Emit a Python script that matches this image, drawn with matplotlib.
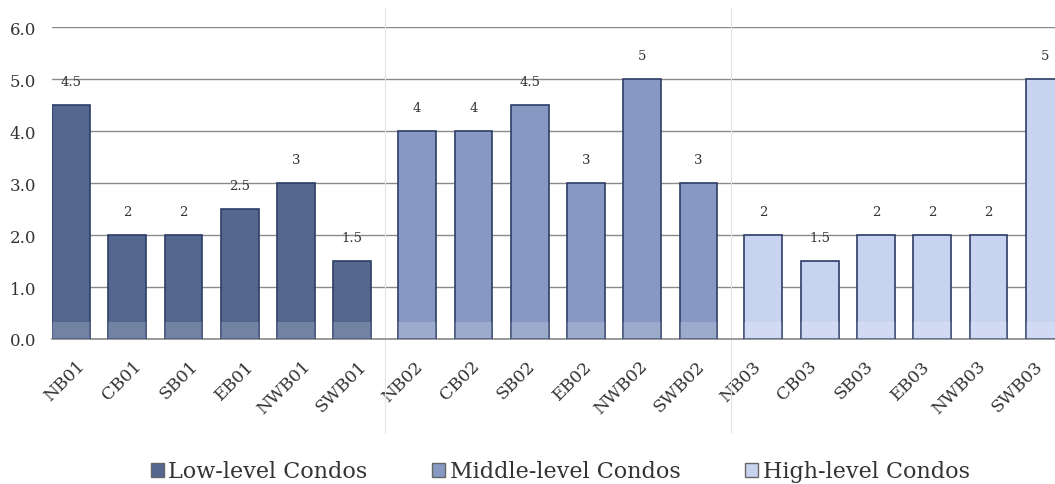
import numpy as np
import matplotlib.pyplot as plt
from matplotlib.patches import Patch

groups = ['Low-level Condos', 'Middle-level Condos', 'High-level Condos']
sites = ['NB', 'CB', 'SB', 'EB', 'NWB', 'SWB']
low_vals = [4.5, 2, 2, 2.5, 3, 1.5]
mid_vals = [4, 4, 4.5, 3, 5, 3]
high_vals = [2, 1.5, 2, 2, 2, 5]
y_ticks = [0.0, 1.0, 2.0, 3.0, 4.0, 5.0, 6.0]

face_colors = ['#54678f', '#8799c2', '#c8d3f0']
edge_color = '#2c3d68'
group_gap = 0.15

plt.rcParams['font.family'] = ['DejaVu Serif']

fig = plt.figure(figsize=(10.55, 4.85), dpi=100)
ax = fig.add_axes([0.049, 0.299, 0.951, 0.643])

all_vals = [low_vals, mid_vals, high_vals]
bar_pos, tick_lab = [], []
for g, vals in enumerate(all_vals):
    x = np.arange(len(vals)) + g * (len(sites) + group_gap)
    ax.bar(x, vals, width=0.67, color=face_colors[g], edgecolor=edge_color,
           linewidth=1.2, zorder=3, label=groups[g])
    # lighter band at the base of the bars (scan look)
    ax.bar(x, [0.33] * len(vals), width=0.67, color='white', alpha=0.18,
           linewidth=0, zorder=4)
    for xi, v in zip(x, vals):
        ax.text(xi, v + 0.33, f'{v:g}', ha='center', va='bottom',
                fontsize=9.5, color='#333333', zorder=5, clip_on=False)
    bar_pos.extend(x)
    tick_lab.extend([f'{s}0{g + 1}' for s in sites])
    if g > 0:
        sep = x[0] - (1 + group_gap) / 2
        ax.axvline(sep, ymin=-0.3, ymax=1.06, clip_on=False,
                   color='#e4e4e4', lw=0.8, zorder=1)

# the category labels sit on an even spacing (no group gaps), like the original
label_pos = np.arange(len(tick_lab)) + 0.1

ax.set_xlim(-0.34, bar_pos[-1] + 0.18)
ax.set_ylim(0, 6)
ax.set_yticks(y_ticks)
ax.set_yticklabels([f'{t:.1f}' for t in y_ticks], fontsize=12, color='#333333')
ax.set_xticks(label_pos)
ax.set_xticklabels(tick_lab, rotation=45, ha='right', rotation_mode='anchor',
                   fontsize=12.5, color='#333333')
ax.tick_params(axis='both', length=0)
ax.tick_params(axis='y', pad=11)
ax.tick_params(axis='x', pad=13)

ax.yaxis.grid(True, color='#8a8a8a', lw=1, zorder=0)
ax.set_axisbelow(True)
for s in ['top', 'right', 'left']:
    ax.spines[s].set_visible(False)
ax.spines['bottom'].set_color('#8a8a8a')
ax.spines['bottom'].set_linewidth(1.2)

handles = [Patch(facecolor=face_colors[i], edgecolor='#666666', lw=1) for i in range(3)]
fig.legend(handles, groups, loc='lower center', bbox_to_anchor=(0.531, -0.038),
           ncol=3, frameon=False, fontsize=16, handlelength=0.6,
           handleheight=0.6, handletextpad=0.2, columnspacing=2.9,
           labelcolor='#333333')

fig.savefig('out.png', dpi=100, facecolor='white')
